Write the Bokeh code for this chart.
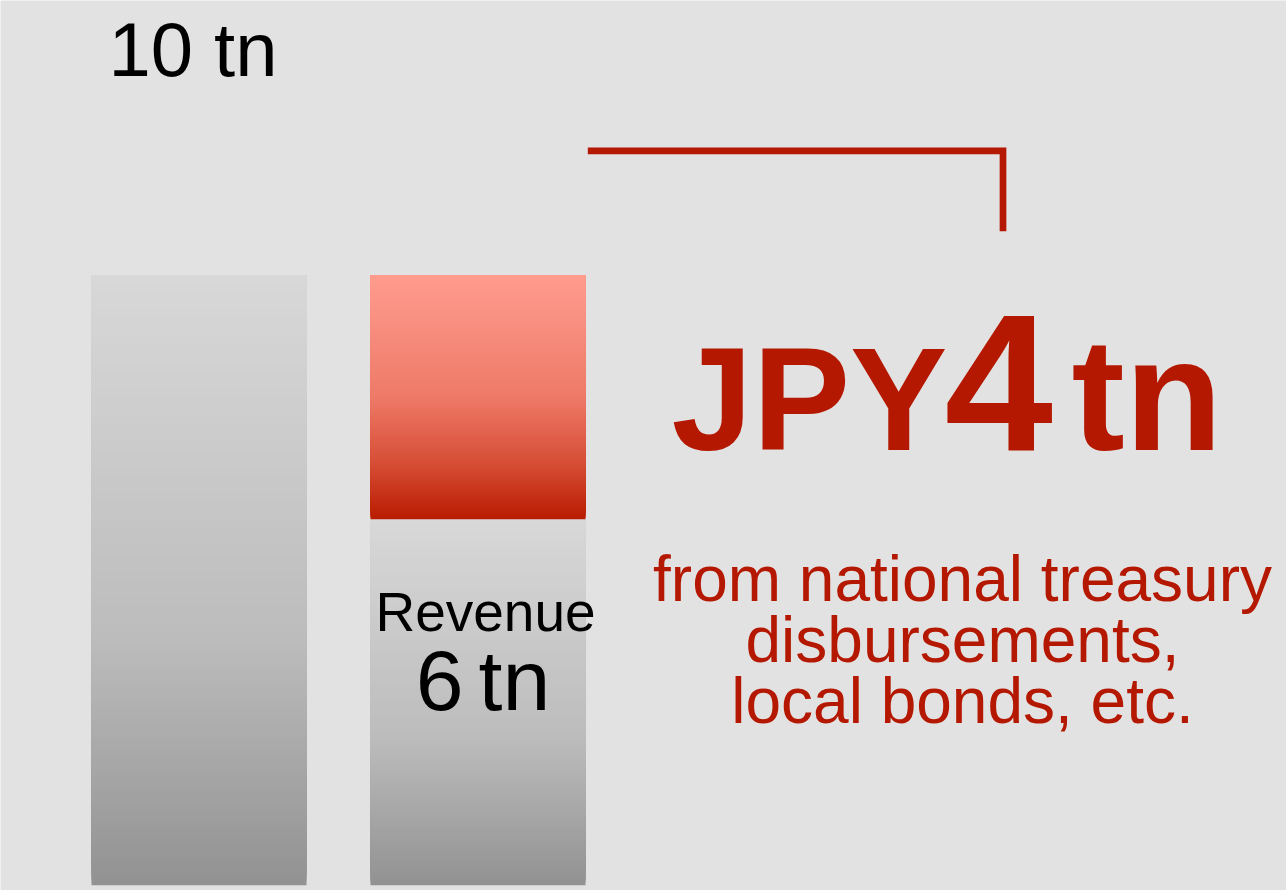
import numpy as np
from bokeh.plotting import figure
from bokeh.models import Range1d
from bokeh.core.properties import value
from bokeh.embed import file_html
from bokeh.resources import INLINE

# Local government budget, trillion yen
categories = ["Total", "Revenue + shortfall"]
total_tn = [10, 10]
revenue_tn = [0, 6]          # own revenue inside the second bar
shortfall_tn = [0, 4]        # gap covered by other sources
total_label = "10 tn"
revenue_label = "Revenue"
revenue_value = "6"
unit = "tn"
shortfall_prefix = "JPY"
shortfall_value = "4"
source_lines = ["from national treasury", "disbursements,", "local bonds, etc."]

W, H = 1286, 890
PX_PER_TN = 61.0
BASE_PX = 884.7   # baseline distance from the top edge, in pixels

def y_at(py):
    """Value-axis coordinate for a pixel row measured from the top."""
    return (BASE_PX - py) / PX_PER_TN

p = figure(width=W, height=H, output_backend="svg", toolbar_location=None,
           x_axis_location=None, y_axis_location=None, min_border=0,
           x_range=Range1d(0, W), y_range=Range1d(y_at(H), y_at(0)))
p.grid.visible = False
p.outline_line_color = None
p.background_fill_color = "#e2e2e2"
p.border_fill_color = "#e2e2e2"

bar_centers = [198.5, 477.5]
bar_width = 215

def gradient(stops, t):
    ts = [s[0] for s in stops]
    cols = np.array([s[1] for s in stops], dtype=float)
    rgb = [np.interp(t, ts, cols[:, k]) for k in range(3)]
    return "#%02x%02x%02x" % tuple(int(round(v)) for v in rgb)

GRAY = [(0.0, (216, 216, 216)), (0.6, (188, 188, 188)), (1.0, (146, 146, 146))]
RED = [(0.0, (255, 156, 142)), (0.5, (238, 122, 104)), (0.78, (214, 76, 52)), (1.0, (185, 28, 0))]

def shaded_bar(xc, bottom, top, stops, n=140):
    # stacked overlapping strips give a seamless vertical gradient (light at top)
    h = top - bottom
    lefts, rights, bottoms, tops, colors = [], [], [], [], []
    for i in range(n):
        b = bottom + h * i / n
        t = 1.0 - (i + 0.5) / n
        lefts.append(xc - bar_width / 2)
        rights.append(xc + bar_width / 2)
        bottoms.append(b)
        tops.append(top)
        colors.append(gradient(stops, t))
    p.quad(left=lefts, right=rights, bottom=bottoms, top=tops,
           fill_color=colors, line_color=None)

# first bar: total spending
shaded_bar(bar_centers[0], 0, total_tn[0], GRAY)
# second bar: revenue (gray) plus shortfall (red) stacked on top
shaded_bar(bar_centers[1], 0, revenue_tn[1], GRAY)
shaded_bar(bar_centers[1], revenue_tn[1], revenue_tn[1] + shortfall_tn[1], RED)

RED_TEXT = "#b51800"
FONT = value("Liberation Sans")

# bracket pointing from the shortfall block to its explanation
bar2_right = bar_centers[1] + bar_width / 2
p.line(x=[bar2_right + 2.3, 1002.5, 1002.5], y=[y_at(150.3), y_at(150.3), y_at(230.7)],
       line_color=RED_TEXT, line_width=6.7, line_join="miter", line_cap="butt")

def label(x, py, text, size, color="#000000", align="center", style="normal"):
    # py is the wanted baseline row; the svg text sits lower by roughly a third of its size
    shift = 2 + 0.35 * size
    p.text(x=[x], y=[y_at(py - shift)], text=[text], text_font=FONT,
           text_font_size=value(f"{size}px"), text_color=color, text_align=align,
           text_baseline="alphabetic", text_font_style=style)

label(192.4, 77.5, total_label, 76)
label(485, 633, revenue_label, 55)
label(463, 711.7, revenue_value, 86, align="right")
label(478, 711.7, unit, 86, align="left")

label(671, 452, shortfall_prefix, 146, RED_TEXT, "left", "bold")
label(944, 452, shortfall_value, 195, RED_TEXT, "left", "bold")
label(1071, 452, unit, 160, RED_TEXT, "left", "bold")

for line, py in zip(source_lines, [602.7, 663.5, 725.0]):
    label(962, py, line, 64, RED_TEXT)

open("out.html", "w").write(file_html(p, INLINE))
